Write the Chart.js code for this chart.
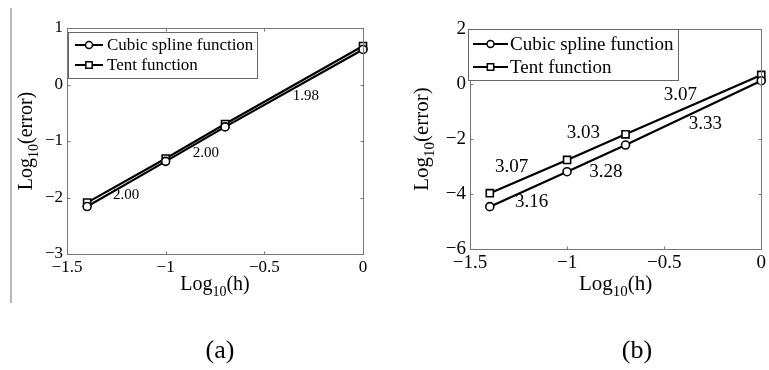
<!DOCTYPE html>
<html lang="en">
<head>
<meta charset="utf-8">
<title>Convergence rates</title>
<script src="https://cdn.jsdelivr.net/npm/chart.js@4.4.0/dist/chart.umd.min.js"></script>
<style>
  body { margin: 0; background: #fff; width: 769px; height: 370px; position: relative; overflow: hidden; font-family: "Liberation Serif", "DejaVu Serif", serif; }
  .panel { position: absolute; top: 0; height: 370px; }
  #sep { position: absolute; left: 10px; top: 8px; width: 2px; height: 295px; background: #b8b8b8; }
  .cap { position: absolute; top: 336px; width: 80px; text-align: center; font-size: 26px; line-height: 28px; color: #000; }
</style>
</head>
<body>
<div id="sep"></div>
<div class="panel" style="left:0;width:384px"><canvas id="chartA" width="384" height="370"></canvas></div>
<div class="panel" style="left:384px;width:385px"><canvas id="chartB" width="385" height="370"></canvas></div>
<div class="cap" style="left:180px">(a)</div>
<div class="cap" style="left:597px">(b)</div>

<script>
// values (log10 scale)
var logH = [-1.398, -1, -0.699, 0];
var seriesNames = ['Cubic spline function', 'Tent function'];

// panel (a)
var cubicA = [-2.16, -1.36, -0.75, 0.62];
var tentA = [-2.09, -1.31, -0.70, 0.68];
var ratesA = ['2.00', '2.00', '1.98'];

// panel (b)
var cubicB = [-4.46, -3.19, -2.22, 0.12];
var tentB = [-3.97, -2.76, -1.83, 0.33];
var ratesCubicB = ['3.16', '3.28', '3.33'];
var ratesTentB = ['3.07', '3.03', '3.07'];

// tick labels
var xTicks = [-1.5, -1, -0.5, 0];
var yTicksA = [-3, -2, -1, 0, 1];
var yTicksB = [-6, -4, -2, 0, 2];

var serif = '"Liberation Serif", "DejaVu Serif", serif';
var frameColor = '#777';

function minus(v) { return String(v).replace('-', '\u2212'); }

function pts(ys) {
  return logH.map(function (x, i) { return { x: x, y: ys[i] }; });
}

// draws "Log10(...)" with a subscript, centered on cx, baseline at by
function drawLogText(ctx, cx, by, rest, size) {
  var sub = Math.round(size * 0.72);
  ctx.font = size + 'px ' + serif;
  var w1 = ctx.measureText('Log').width;
  var w3 = ctx.measureText(rest).width;
  ctx.font = sub + 'px ' + serif;
  var w2 = ctx.measureText('10').width;
  var x = cx - (w1 + w2 + w3) / 2;
  ctx.textAlign = 'left';
  ctx.textBaseline = 'alphabetic';
  ctx.fillStyle = '#000';
  ctx.font = size + 'px ' + serif;
  ctx.fillText('Log', x, by);
  ctx.font = sub + 'px ' + serif;
  ctx.fillText('10', x + w1, by + size * 0.3);
  ctx.font = size + 'px ' + serif;
  ctx.fillText(rest, x + w1 + w2, by);
}

var decorPlugin = {
  id: 'decor',
  afterDraw: function (chart) {
    var p = chart.options.plugins.decor;
    var ctx = chart.ctx;
    var a = chart.chartArea;
    var xs = chart.scales.x, ys = chart.scales.y;
    ctx.save();

    // rate labels
    ctx.fillStyle = '#000';
    ctx.font = p.rateSize + 'px ' + serif;
    ctx.textAlign = 'center';
    ctx.textBaseline = 'middle';
    p.rates.forEach(function (r) {
      ctx.fillText(r.text, xs.getPixelForValue(r.x), ys.getPixelForValue(r.y));
    });

    // frame and inward ticks
    var L = Math.round(a.left) + 0.5, R = Math.round(a.right) + 0.5;
    var T = Math.round(a.top) + 0.5, B = Math.round(a.bottom) + 0.5;
    ctx.strokeStyle = frameColor;
    ctx.lineWidth = 1;
    ctx.strokeRect(L, T, R - L, B - T);
    ctx.beginPath();
    xs.ticks.forEach(function (t) {
      var px = Math.round(xs.getPixelForValue(t.value)) + 0.5;
      ctx.moveTo(px, B); ctx.lineTo(px, B - 3);
      ctx.moveTo(px, T); ctx.lineTo(px, T + 3);
    });
    ys.ticks.forEach(function (t) {
      var py = Math.round(ys.getPixelForValue(t.value)) + 0.5;
      ctx.moveTo(L, py); ctx.lineTo(L + 3, py);
      ctx.moveTo(R, py); ctx.lineTo(R - 3, py);
    });
    ctx.stroke();

    // legend
    var lg = p.legend;
    ctx.fillStyle = '#fff';
    ctx.fillRect(lg.x, lg.y, lg.w, lg.h);
    ctx.strokeStyle = '#666';
    ctx.strokeRect(lg.x + 0.5, lg.y + 0.5, lg.w, lg.h);
    chart.data.datasets.forEach(function (ds, i) {
      var ry = lg.rows[i];
      ctx.strokeStyle = '#000';
      ctx.lineWidth = 2;
      ctx.beginPath();
      ctx.moveTo(lg.x1, ry); ctx.lineTo(lg.x2, ry);
      ctx.stroke();
      ctx.fillStyle = '#fff';
      ctx.lineWidth = 1.5;
      Chart.helpers.drawPoint(ctx, {
        pointStyle: ds.pointStyle, radius: ds.pointRadius - 0.5, borderWidth: 1.5
      }, (lg.x1 + lg.x2) / 2, ry);
      ctx.fillStyle = '#000';
      ctx.font = p.legendSize + 'px ' + serif;
      ctx.textAlign = 'left';
      ctx.textBaseline = 'middle';
      ctx.fillText(ds.label, lg.tx, ry + 1);
    });

    // axis titles
    drawLogText(ctx, (a.left + a.right) / 2, p.xTitleY, '(h)', p.titleSize);
    ctx.translate(p.yTitleX, (a.top + a.bottom) / 2);
    ctx.rotate(-Math.PI / 2);
    drawLogText(ctx, 0, 0, '(error)', p.titleSize);
    ctx.restore();
  }
};

function makeChart(id, cubic, tent, yTicks, p) {
  var tickFont = { family: serif, size: p.tickSize };
  var style = function (name, ys, shape, r) {
    return {
      label: name, data: pts(ys), borderColor: '#000', borderWidth: 2.2,
      pointStyle: shape, pointRadius: r, pointBorderWidth: 1.6,
      pointBackgroundColor: '#fff', pointBorderColor: '#000',
      tension: 0, clip: false
    };
  };
  return new Chart(document.getElementById(id), {
    type: 'line',
    data: {
      datasets: [style(seriesNames[0], cubic, 'circle', 4), style(seriesNames[1], tent, 'rect', 5)]
    },
    options: {
      responsive: false,
      animation: false,
      layout: { padding: { left: 0, right: p.padRight, top: p.padTop, bottom: 0 } },
      scales: {
        x: {
          type: 'linear', min: xTicks[0], max: xTicks[xTicks.length - 1],
          afterBuildTicks: function (s) { s.ticks = xTicks.map(function (v) { return { value: v }; }); },
          afterFit: function (s) { s.height = p.xAxisH; },
          grid: { display: false, drawTicks: false },
          border: { display: false },
          ticks: { font: tickFont, color: '#000', padding: 3, maxRotation: 0, autoSkip: false, callback: minus }
        },
        y: {
          type: 'linear', min: yTicks[0], max: yTicks[yTicks.length - 1],
          afterBuildTicks: function (s) { s.ticks = yTicks.map(function (v) { return { value: v }; }); },
          afterFit: function (s) { s.width = p.yAxisW; },
          grid: { display: false, drawTicks: false },
          border: { display: false },
          ticks: { font: tickFont, color: '#000', padding: 4, autoSkip: false, callback: minus }
        }
      },
      plugins: {
        legend: { display: false },
        tooltip: { enabled: false },
        decor: p
      }
    },
    plugins: [decorPlugin]
  });
}

makeChart('chartA', cubicA, tentA, yTicksA, {
  yAxisW: 67, padRight: 21, padTop: 28, xAxisH: 116,
  tickSize: 17, titleSize: 20, legendSize: 17, rateSize: 15,
  xTitleY: 290, yTitleX: 32,
  legend: { x: 68, y: 32, w: 189, h: 46, rows: [45, 65], x1: 75, x2: 103, tx: 107 },
  rates: [
    { text: ratesA[0], x: -1.201, y: -1.956 },
    { text: ratesA[1], x: -0.796, y: -1.212 },
    { text: ratesA[2], x: -0.289, y: -0.204 }
  ]
});

makeChart('chartB', cubicB, tentB, yTicksB, {
  yAxisW: 86, padRight: 6, padTop: 29, xAxisH: 121,
  tickSize: 19, titleSize: 21, legendSize: 19, rateSize: 19,
  xTitleY: 290, yTitleX: 44,
  legend: { x: 84, y: 29, w: 210, h: 51, rows: [44, 67], x1: 89, x2: 124, tx: 126 },
  rates: [
    { text: ratesCubicB[0], x: -1.183, y: -4.28 },
    { text: ratesCubicB[1], x: -0.800, y: -3.19 },
    { text: ratesCubicB[2], x: -0.288, y: -1.465 },
    { text: ratesTentB[0], x: -1.286, y: -3.007 },
    { text: ratesTentB[1], x: -0.916, y: -1.78 },
    { text: ratesTentB[2], x: -0.416, y: -0.40 }
  ]
});
</script>
</body>
</html>
